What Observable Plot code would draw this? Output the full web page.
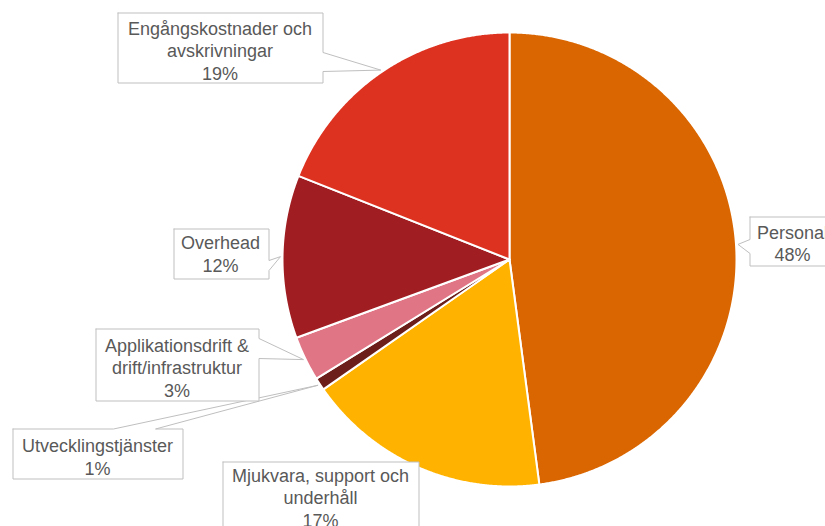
<!DOCTYPE html>
<html>
<head>
<meta charset="utf-8">
<script src="https://cdn.jsdelivr.net/npm/d3@7"></script>
<script src="https://cdn.jsdelivr.net/npm/@observablehq/plot@0.6"></script>
<style>
  html, body { margin: 0; padding: 0; background: #fff; overflow: hidden; }
  #chart { width: 825px; height: 526px; overflow: hidden; }
</style>
</head>
<body>
<div id="chart"></div>
<script>
// ---- data ----
const categories = [
  "Personal",
  "Mjukvara, support och underhåll",
  "Utvecklingstjänster",
  "Applikationsdrift & drift/infrastruktur",
  "Overhead",
  "Engångskostnader och avskrivningar"
];
const values = [47.9, 17.4, 0.9, 3.2, 11.6, 19.0];
const labelTexts = [
  "Personal",
  "Mjukvara, support och\nunderhåll",
  "Utvecklingstjänster",
  "Applikationsdrift &\ndrift/infrastruktur",
  "Overhead",
  "Engångskostnader och\navskrivningar"
];
const colors = ["#D96600", "#FFB300", "#6B1E1A", "#E07585", "#A01D21", "#DE3220"];

// ---- layout (callout boxes, pixels) ----
const W = 825, H = 526;
const CX = 509, CY = 259, R = 227;
const callouts = [
  {box: [749, 216, 840, 265], side: "left",  base: [239, 253], text: [792, 242.5]},
  {box: [222, 461, 418, 545], side: null,    base: null,       text: [320, 496.5]},
  {box: [12, 428, 182, 478],  side: "top",   base: [113, 155], text: [97, 456]},
  {box: [95, 328, 258, 400],  side: "right", base: [338, 358], text: [176.5, 366.5]},
  {box: [173, 228, 268, 278], side: "right", base: [260, 270], text: [220, 253]},
  {box: [117, 12, 322, 82],   side: "right", base: [52, 71],   text: [219.5, 49.5]}
];

const data = categories.map((name, i) => ({name, value: values[i], label: labelTexts[i]}));
const total = d3.sum(values);
const arcs = d3.pie().sort(null).value(d => d.value)(data);

const px = (a, r) => CX + r * Math.sin(a);
const py = (a, r) => CY - r * Math.cos(a);

// slice polygons
const slicePts = [];
arcs.forEach(a => {
  const n = Math.max(2, Math.ceil((a.endAngle - a.startAngle) / 0.005));
  slicePts.push({name: a.data.name, x: CX, y: CY});
  for (let k = 0; k <= n; k++) {
    const t = a.startAngle + (a.endAngle - a.startAngle) * k / n;
    slicePts.push({name: a.data.name, x: px(t, R), y: py(t, R)});
  }
  slicePts.push({name: a.data.name, x: CX, y: CY});
});

// callout shapes
const boxPts = [];
const textData = [];
arcs.forEach((a, i) => {
  const c = callouts[i];
  const mid = (a.startAngle + a.endAngle) / 2;
  const tip = [px(mid, R + 2), py(mid, R + 2)];
  let [x1, y1, x2, y2] = c.box;
  x1 += 0.5; y1 += 0.5; x2 += 0.5; y2 += 0.5;
  let pts;
  if (c.side === "right") {
    pts = [[x1, y1], [x2, y1], [x2, c.base[0]], tip, [x2, c.base[1]], [x2, y2], [x1, y2], [x1, y1]];
  } else if (c.side === "left") {
    pts = [[x1, y1], [x2, y1], [x2, y2], [x1, y2], [x1, c.base[1]], tip, [x1, c.base[0]], [x1, y1]];
  } else if (c.side === "top") {
    pts = [[x1, y1], [c.base[0], y1], tip, [c.base[1], y1], [x2, y1], [x2, y2], [x1, y2], [x1, y1]];
  } else {
    pts = [[x1, y1], [x2, y1], [x2, y2], [x1, y2], [x1, y1]];
  }
  pts.forEach(p => boxPts.push({name: a.data.name, x: p[0], y: p[1]}));
  textData.push({
    name: a.data.name,
    x: c.text[0], y: c.text[1],
    text: a.data.label + "\n" + Math.round(a.data.value / total * 100) + "%"
  });
});

const chart = Plot.plot({
  width: W,
  height: H,
  margin: 0,
  x: {domain: [0, W], range: [0, W], axis: null},
  y: {domain: [0, H], range: [0, H], axis: null},
  color: {domain: categories, range: colors},
  style: {fontFamily: "'Liberation Sans', Arial, sans-serif", background: "#fff"},
  marks: [
    Plot.line(slicePts, {x: "x", y: "y", z: "name", fill: "name", stroke: "white", strokeWidth: 2, strokeLinejoin: "round", curve: "linear"}),
    Plot.line(boxPts, {x: "x", y: "y", z: "name", fill: "white", stroke: "#BFBFBF", strokeWidth: 1, curve: "linear"}),
    Plot.text(textData, {x: "x", y: "y", text: "text", fontSize: 18, lineHeight: 1.25, fill: "#595959", textAnchor: "middle"})
  ]
});
document.getElementById("chart").appendChild(chart);
</script>
</body>
</html>
